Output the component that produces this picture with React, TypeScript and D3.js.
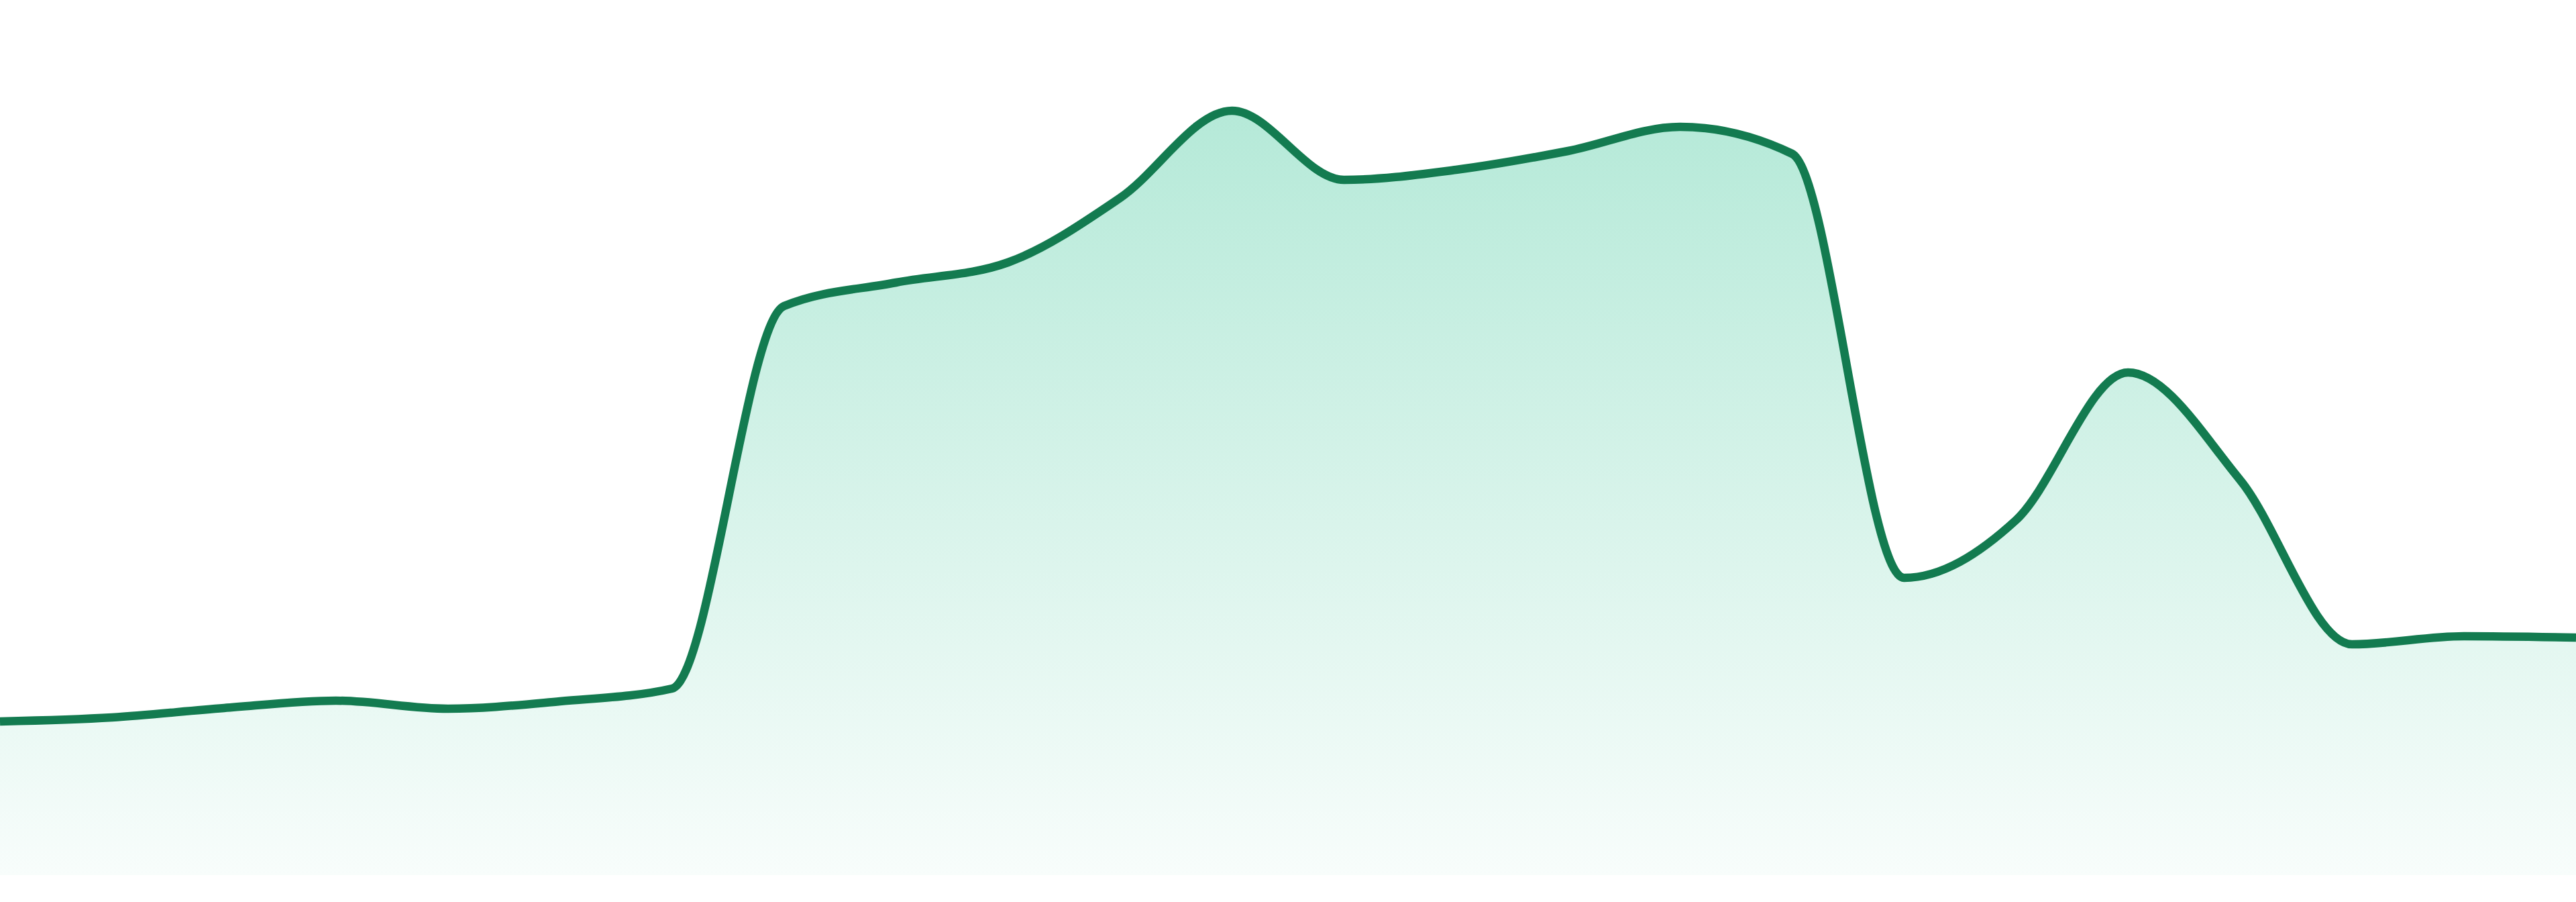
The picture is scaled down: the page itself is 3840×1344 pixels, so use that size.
import React from "react";
import * as d3 from "d3";

const WIDTH = 3840;
const HEIGHT = 1344;

// 24 evenly spaced samples
const indices: number[] = Array.from({ length: 24 }, (_, i) => i);
const values: number[] = [
  22.9, 23.5, 24.9, 26.0, 24.8, 25.9, 27.8, 84.8, 88.3, 91.3, 100.9, 113.9,
  103.6, 105.1, 107.9, 111.5, 107.5, 44.3, 52.9, 74.9, 58.9, 34.4, 35.6, 35.4,
];

const LINE_COLOR = "#137b50";
const FILL_COLOR = "#10b981";

export default function App() {
  const x = d3
    .scaleLinear()
    .domain([0, indices.length - 1])
    .range([0, WIDTH]);
  const y = d3.scaleLinear().domain([0, 120]).range([1304, 104]);

  const data = indices.map((i) => ({ i, v: values[i] }));

  const line = d3
    .line<{ i: number; v: number }>()
    .x((d) => x(d.i))
    .y((d) => y(d.v))
    .curve(d3.curveMonotoneX);

  const area = d3
    .area<{ i: number; v: number }>()
    .x((d) => x(d.i))
    .y0(y(0))
    .y1((d) => y(d.v))
    .curve(d3.curveMonotoneX);

  return (
    <svg
      width={WIDTH}
      height={HEIGHT}
      style={{ position: "fixed", left: 0, top: 0, display: "block", background: "#ffffff" }}
    >
      <defs>
        <linearGradient id="areaGrad" x1="0" y1="0" x2="0" y2="1">
          <stop offset="0%" stopColor={FILL_COLOR} stopOpacity={0.31} />
          <stop offset="100%" stopColor={FILL_COLOR} stopOpacity={0.03} />
        </linearGradient>
      </defs>
      <path d={area(data) ?? ""} fill="url(#areaGrad)" />
      <path
        d={line(data) ?? ""}
        fill="none"
        stroke={LINE_COLOR}
        strokeWidth={12.5}
        strokeLinejoin="round"
        strokeLinecap="butt"
      />
    </svg>
  );
}
